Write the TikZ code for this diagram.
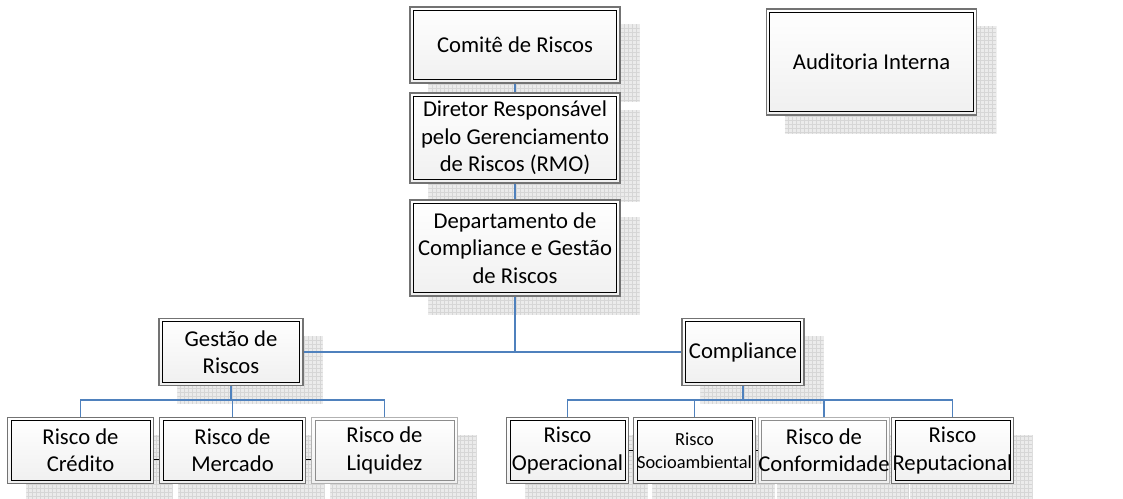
\documentclass[tikz,border=0pt]{standalone}
\usepackage{fontspec}
\setmainfont{Carlito}
\usetikzlibrary{backgrounds}
\definecolor{connblue}{RGB}{79,129,189}
\definecolor{shadowgray}{RGB}{235,235,235}
\definecolor{gridgray}{RGB}{214,214,214}
\tikzset{
  box/.style={draw=black!55, line width=0.8pt, top color=white, bottom color=black!6, align=center, inner sep=0pt,
    font=\fontsize{17}{20.5}\selectfont,
    path picture={\draw[black, line width=0.6pt]
      ([shift={(2.4pt,2.4pt)}]path picture bounding box.south west) rectangle
      ([shift={(-2.4pt,-2.4pt)}]path picture bounding box.north east);}},
  palebox/.style={box, draw=black!30,
    path picture={\draw[black!45, line width=0.6pt]
      ([shift={(2.4pt,2.4pt)}]path picture bounding box.south west) rectangle
      ([shift={(-2.4pt,-2.4pt)}]path picture bounding box.north east);}},
  shadowbox/.style={fill=shadowgray,
    path picture={\draw[gridgray, line width=0.25pt, step=3pt]
      (path picture bounding box.south west) grid (path picture bounding box.north east);}},
  conn/.style={connblue, line width=0.8pt},
  connmain/.style={connblue, line width=1.3pt},
  link/.style={black, line width=0.7pt}
}
\begin{document}
\begin{tikzpicture}[x=0.75pt,y=-0.75pt]
\useasboundingbox (0,0) rectangle (1123,499);

\node[box, minimum width=157.5pt, minimum height=57pt] (comite) at (515,45) {Comitê de Riscos};
\node[box, minimum width=157.5pt, minimum height=67.5pt] (diretor) at (515,138) {Diretor Responsável\\pelo Gerenciamento\\de Riscos (RMO)};
\node[box, minimum width=157.5pt, minimum height=72pt] (depto) at (515,248) {Departamento de\\Compliance e Gestão\\de Riscos};
\node[box, minimum width=158pt, minimum height=79.5pt] (auditoria) at (871.5,62) {Auditoria Interna};

\node[box, minimum width=108pt, minimum height=50pt] (gestao) at (231,352) {Gestão de\\Riscos};
\node[box, minimum width=91.5pt, minimum height=50pt] (compliance) at (743,352) {Compliance};

\node[box, minimum width=109pt, minimum height=50pt] (credito) at (80.5,450.5) {Risco de\\Crédito};
\node[box, minimum width=109pt, minimum height=50pt] (mercado) at (232.5,450.5) {Risco de\\Mercado};
\node[palebox, minimum width=109pt, minimum height=50pt] (liquidez) at (384.5,450.5) {Risco de\\Liquidez};
\node[box, minimum width=91pt, minimum height=50pt] (operacional) at (567.5,450.5) {Risco\\Operacional};
\node[box, minimum width=91pt, minimum height=50pt, font=\fontsize{13.8}{17.5}\selectfont] (socio) at (694.5,450.5) {Risco\\Socioambiental};
\node[palebox, minimum width=93pt, minimum height=50pt] (conformidade) at (824,450.5) {Risco de\\Conformidade};
\node[box, minimum width=91pt, minimum height=50pt] (reputacional) at (952.5,450.5) {Risco\\Reputacional};

\begin{scope}[on background layer]
  \foreach \n in {comite,diretor,depto,auditoria,gestao,compliance,credito,mercado,liquidez,operacional,socio,conformidade,reputacional}
    \path[shadowbox] ([shift={(19,18)}]\n.north west) rectangle ([shift={(19,18)}]\n.south east);
\end{scope}

\coordinate (gbus) at (231,400);
\coordinate (cbus) at (743,400);

\draw[conn] (comite) -- (diretor);
\draw[conn] (diretor) -- (depto);
\draw[conn] (gestao.east) -- (compliance.west);
\draw[conn] (depto.south) -- (depto.south |- gestao.east);

\draw[connmain] (gestao.south) -- (gbus) -| (credito.north);
\foreach \c in {mercado,liquidez}
  \draw[conn] (gbus) -| (\c.north);
\draw[connmain] (compliance.south) -- (cbus) -| (operacional.north);
\foreach \c in {socio,conformidade,reputacional}
  \draw[conn] (cbus) -| (\c.north);

\draw[link] ([yshift=-7pt]credito.east) -- ([yshift=-7pt]mercado.west);
\draw[link] ([yshift=-7pt]mercado.east) -- ([yshift=-7pt]liquidez.west);
\draw[link] (operacional) -- (socio);
\draw[link] (socio) -- (conformidade);
\end{tikzpicture}
\end{document}
